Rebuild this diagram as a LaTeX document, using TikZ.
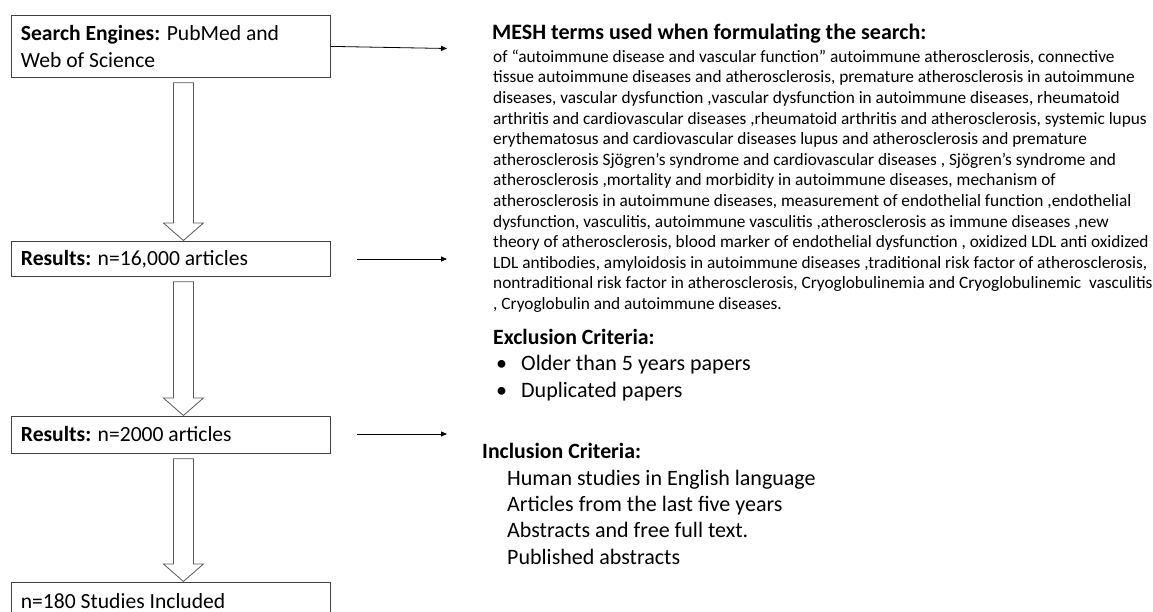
\documentclass[tikz,border=0pt]{standalone}
\usepackage{fontspec}
\setmainfont{Carlito}
\usetikzlibrary{arrows.meta,calc}
\tikzset{
  box/.style={draw=black!75, line width=0.8pt, minimum width=319pt, anchor=north west,
    inner xsep=9pt, inner ysep=0pt, align=flush left, text width=300pt,
    font=\fontsize{21.6}{26.7}\selectfont},
  onebox/.style={box, text height=14pt, text depth=0pt},
  blk/.style={draw=black!65, line width=0.8pt, fill=white, line join=miter},
  conn/.style={draw=black, line width=0.8pt, -{Triangle[length=6pt,width=5pt]}},
  head/.style={anchor=base west, inner sep=0pt, font=\bfseries\fontsize{21.8}{24}\selectfont},
  item/.style={anchor=base west, inner sep=0pt, font=\fontsize{22}{24}\selectfont},
}
\newcommand\blkarrow[2]{%
  \draw[blk] let \p1=(#1.south), \p2=(#2.north) in
    (\x1+2.5pt,\y1-5pt) -- (\x1+22.5pt,\y1-5pt) -- (\x1+22.5pt,\y2+18pt)
    -- (\x1+32.5pt,\y2+18pt) -- (\x1+12.5pt,\y2+0.5pt) -- (\x1-7.5pt,\y2+18pt)
    -- (\x1+2.5pt,\y2+18pt) -- cycle;}
\begin{document}
\begin{tikzpicture}[x=1pt,y=-1pt]
\useasboundingbox[fill=white] (0,0) rectangle (1153,612);
% left column boxes
\node[box, minimum height=62pt] (b1) at (11,15)
  {\textbf{Search Engines:} PubMed and\\Web of Science};
\node[onebox, minimum height=35pt] (b2) at (11,241) {\textbf{Results:} n=16,000 articles};
\node[onebox, minimum height=37pt] (b3) at (11,416) {\textbf{Results:} n=2000 articles};
\node[onebox, minimum height=38pt] (b4) at (11,582) {n=180 Studies Included};
% block arrows
\blkarrow{b1}{b2}
\blkarrow{b2}{b3}
\blkarrow{b3}{b4}
% right side text
\node[anchor=base west, inner sep=0pt, font=\bfseries\fontsize{22}{24}\selectfont] (mt) at (492,40)
  {MESH terms used when formulating the search:};
\node[anchor=north west, inner sep=0pt, align=flush left, font=\fontsize{17.3}{20.6}\selectfont] (mesh) at (493,49.6)
  {of “autoimmune disease and vascular function” autoimmune atherosclerosis, connective\\
   tissue autoimmune diseases and atherosclerosis, premature atherosclerosis in autoimmune\\
   diseases, vascular dysfunction ,vascular dysfunction in autoimmune diseases, rheumatoid\\
   arthritis and cardiovascular diseases ,rheumatoid arthritis and atherosclerosis, systemic lupus\\
   erythematosus and cardiovascular diseases lupus and atherosclerosis and premature\\
   atherosclerosis Sjögren’s syndrome and cardiovascular diseases , Sjögren’s syndrome and\\
   atherosclerosis ,mortality and morbidity in autoimmune diseases, mechanism of\\
   atherosclerosis in autoimmune diseases, measurement of endothelial function ,endothelial\\
   dysfunction, vasculitis, autoimmune vasculitis ,atherosclerosis as immune diseases ,new\\
   theory of atherosclerosis, blood marker of endothelial dysfunction , oxidized LDL anti oxidized\\
   LDL antibodies, amyloidosis in autoimmune diseases ,traditional risk factor of atherosclerosis,\\
   nontraditional risk factor in atherosclerosis, Cryoglobulinemia and Cryoglobulinemic\ \ vasculitis\\
   , Cryoglobulin and autoimmune diseases.};
\node[head] (exh) at (493,344.3) {Exclusion Criteria:};
\node[item] (ex1b) at (496,370.7) {•};
\node[item] (ex1) at (521,370.7) {Older than 5 years papers};
\node[item] (ex2b) at (496,397.3) {•};
\node[item] (ex2) at (521,397.3) {Duplicated papers};
\node[head] (inh) at (482,458.3) {Inclusion Criteria:};
\node[item] (in1) at (507,485.7) {Human studies in English language};
\node[item] (in2) at (507,511.7) {Articles from the last five years};
\node[item] (in3) at (507,537.7) {Abstracts and free full text.};
\node[item] (in4) at (507,564) {Published abstracts};
% horizontal arrows
\coordinate (a1) at (447,48.5);
\coordinate (s2) at (357,259);
\coordinate (a2) at (447,259);
\coordinate (s3) at (357,434);
\coordinate (a3) at (447,434);
\draw[conn] (b1.east) -- (a1);
\draw[conn] (s2) -- (a2);
\draw[conn] (s3) -- (a3);
\end{tikzpicture}
\end{document}
